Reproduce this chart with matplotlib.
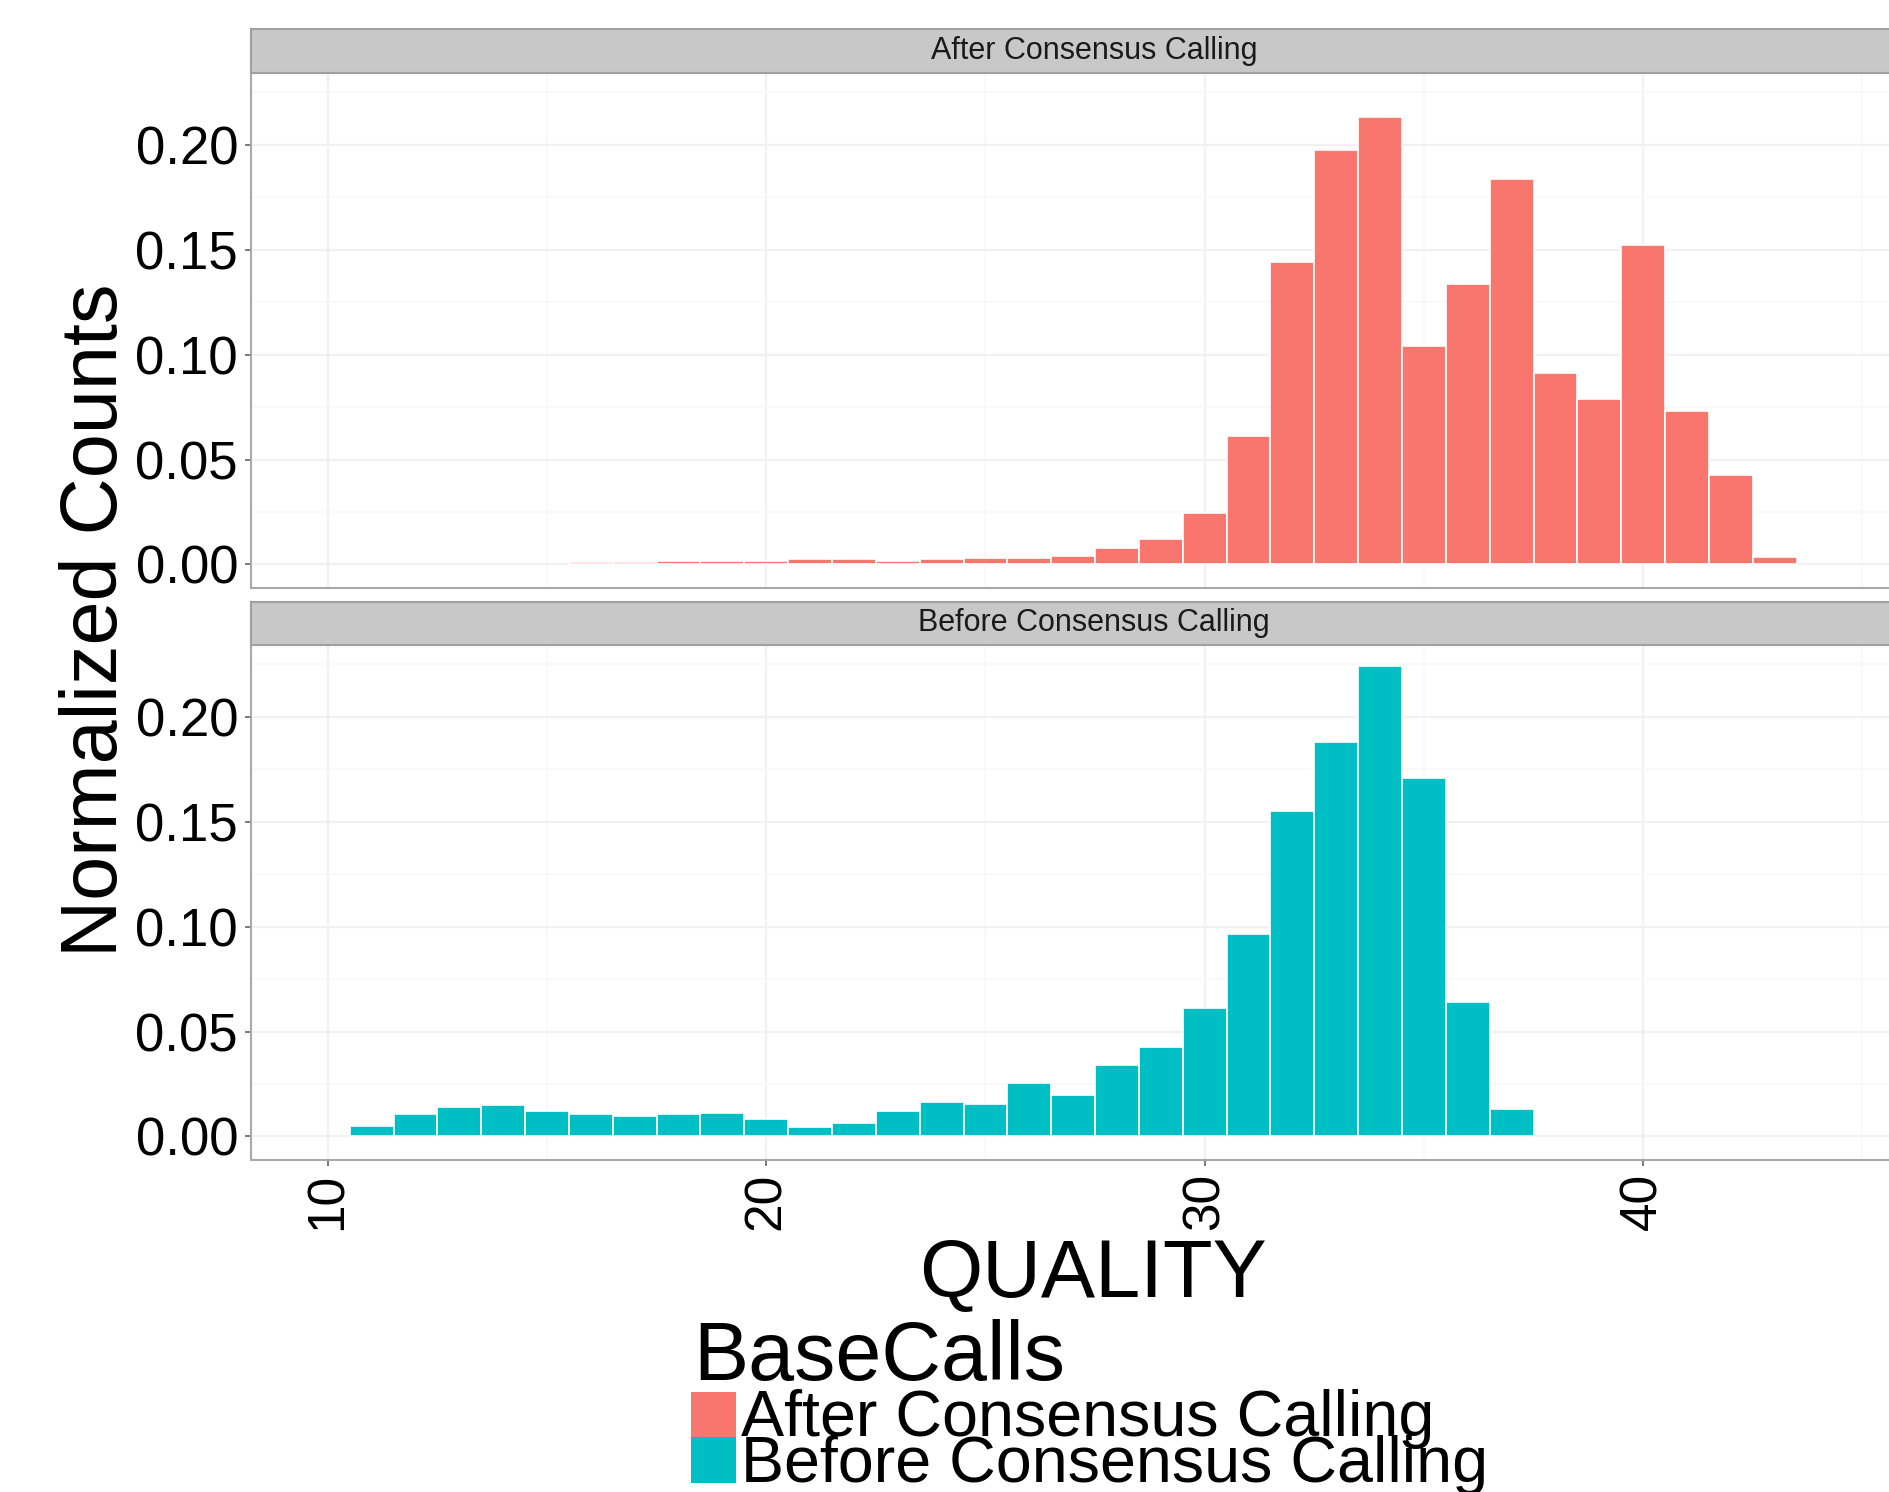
import matplotlib
matplotlib.use('Agg')
import matplotlib.pyplot as plt
from matplotlib.patches import Rectangle
from matplotlib.ticker import MultipleLocator

plt.rcParams['font.family'] = ['Liberation Sans', 'DejaVu Sans']

# ---------------- data ----------------
quality_after = list(range(16, 44))
after_vals = [0.0011, 0.0014, 0.0016, 0.0016, 0.0016, 0.0024, 0.0024, 0.0016,
              0.0024, 0.0033, 0.0033, 0.0041, 0.0077, 0.0121, 0.0244, 0.0614,
              0.144, 0.1975, 0.2134, 0.1039, 0.1337, 0.1839, 0.0913, 0.079,
              0.1524, 0.073, 0.0426, 0.0034]

quality_before = list(range(11, 38))
before_vals = [0.0052, 0.0107, 0.0142, 0.0148, 0.0121, 0.0106, 0.0098, 0.0106,
               0.0114, 0.0082, 0.0043, 0.0066, 0.0123, 0.0166, 0.0156, 0.0254,
               0.0200, 0.0342, 0.0425, 0.0614, 0.0966, 0.155, 0.188, 0.224,
               0.1707, 0.064, 0.0129]

panel_titles = ['After Consensus Calling', 'Before Consensus Calling']
legend_title = 'BaseCalls'
x_label = 'QUALITY'
y_label = 'Normalized Counts'
x_ticks = [10, 20, 30, 40]
y_ticks = [0.00, 0.05, 0.10, 0.15, 0.20]
y_tick_labels = ['0.00', '0.05', '0.10', '0.15', '0.20']
colors = ['#F8766D', '#00BFC4']

# ---------------- layout ----------------
W, H = 1889, 1492
fig = plt.figure(figsize=(W / 100, H / 100), dpi=100)


def fx(px):
    return px / W


def fy(py):
    return 1 - py / H


left_px, right_px = 251, 1937
panels = [(73, 588, 29), (645, 1160, 602)]  # (panel top, panel bottom, strip top)
xlim = (8.25, 46.70)
ylim = (-0.0112, 0.2342)
border_col = '#A8A8A8'

series = [(quality_after, after_vals), (quality_before, before_vals)]

for i, ((ptop, pbot, stop), (xs, ys)) in enumerate(zip(panels, series)):
    ax = fig.add_axes([fx(left_px), fy(pbot), (right_px - left_px) / W, (pbot - ptop) / H])
    ax.bar(xs, ys, width=1.0, color=colors[i], edgecolor='white', linewidth=1.2, zorder=3)
    ax.set_xlim(*xlim)
    ax.set_ylim(*ylim)
    ax.set_xticks(x_ticks)
    ax.set_yticks(y_ticks)
    ax.set_yticklabels(y_tick_labels)
    ax.xaxis.set_minor_locator(MultipleLocator(5))
    ax.yaxis.set_minor_locator(MultipleLocator(0.025))
    ax.grid(which='major', color='#F1F1F1', linewidth=1.6, zorder=0)
    ax.grid(which='minor', color='#F8F8F8', linewidth=1.2, zorder=0)
    ax.set_axisbelow(True)
    for s in ['left', 'bottom', 'top']:
        ax.spines[s].set_color(border_col)
        ax.spines[s].set_linewidth(1.5)
    ax.spines['right'].set_visible(False)
    ax.tick_params(which='minor', length=0)
    ax.tick_params(axis='y', which='major', length=4.3, width=1.1, color='#555555',
                   labelsize=38, pad=5.0, labelcolor='black')
    if i == 0:
        ax.tick_params(axis='x', which='major', length=0, labelbottom=False)
    else:
        ax.tick_params(axis='x', which='major', length=4.3, width=1.1, color='#555555',
                       labelsize=37, pad=5, labelcolor='black', labelrotation=90)

    # facet strip
    sax = fig.add_axes([fx(left_px), fy(ptop), (right_px - left_px) / W, (ptop - stop) / H])
    sax.set_facecolor('#C8C8C8')
    sax.set_xticks([])
    sax.set_yticks([])
    for s in sax.spines.values():
        s.set_color('#A0A0A0')
        s.set_linewidth(1.5)
    sax.spines['right'].set_visible(False)
    sax.text(0.5, 0.5, panel_titles[i], transform=sax.transAxes, ha='center', va='center',
             fontsize=22, color='#1A1A1A')

# axis titles
fig.text(fx(97), fy(620), y_label, rotation=90, ha='center', va='center', fontsize=57)
fig.text(fx(1093), fy(1297), x_label, ha='center', va='baseline', fontsize=58.5)

# legend
fig.text(fx(693), fy(1380), legend_title, ha='left', va='baseline', fontsize=59.5)
fig.patches.append(Rectangle((fx(691), fy(1437)), 45 / W, 45 / H, transform=fig.transFigure,
                             facecolor=colors[0], edgecolor='none'))
fig.patches.append(Rectangle((fx(691), fy(1483)), 45 / W, 46 / H, transform=fig.transFigure,
                             facecolor=colors[1], edgecolor='none'))
fig.text(fx(741), fy(1436), panel_titles[0], ha='left', va='baseline', fontsize=46.5)
fig.text(fx(741), fy(1482), panel_titles[1], ha='left', va='baseline', fontsize=46.5)

fig.savefig('out.png', dpi=100)
